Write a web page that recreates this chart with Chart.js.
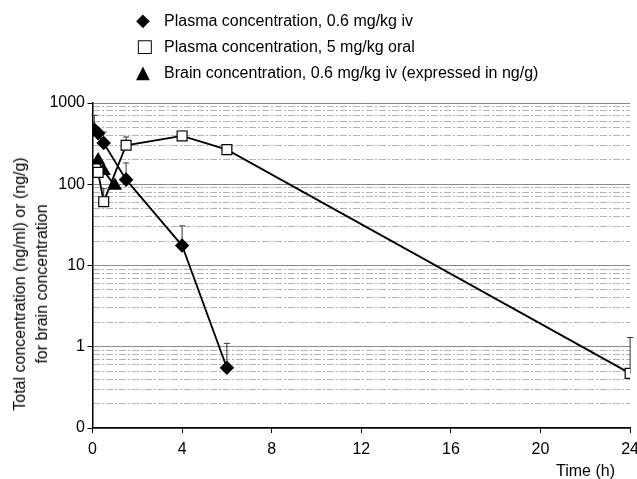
<!DOCTYPE html>
<html>
<head>
<meta charset="utf-8">
<script src="https://cdn.jsdelivr.net/npm/chart.js@4.4.0/dist/chart.umd.min.js"></script>
<style>
 body{margin:0;background:#fff;overflow:hidden;}
 #wrap{position:relative;width:637px;height:479px;overflow:hidden;font-family:"Liberation Sans",Arial,sans-serif;color:#000;}
 .leg{position:absolute;left:136px;font-size:16px;line-height:18px;white-space:nowrap;}
 .leg .mk{display:inline-block;width:28px;font-family:"DejaVu Sans";font-size:18px;}
 #xtitle{position:absolute;left:556px;top:462px;font-size:16px;line-height:18px;}
 #ytitle{position:absolute;left:31px;top:284px;width:0;height:0;}
 #ytitle div{position:absolute;left:0;top:0;transform:translate(-50%,-50%) rotate(-90deg);font-size:16px;line-height:22px;text-align:center;white-space:nowrap;}
 canvas{position:absolute;left:0;top:0;}
</style>
</head>
<body>
<div id="wrap">
 <canvas id="chart_paper" width="646" height="479"></canvas>
 <div class="leg" style="top:11px"><span class="mk">&#9670;</span>Plasma concentration, 0.6 mg/kg iv</div>
 <div class="leg" style="top:37px"><span class="mk">&#9633;</span>Plasma concentration, 5 mg/kg oral</div>
 <div class="leg" style="top:63px"><span class="mk">&#9650;</span>Brain concentration, 0.6 mg/kg iv (expressed in ng/g)</div>
 <div id="ytitle"><div>Total concentration (ng/ml) or (ng/g)<br>for brain concentration</div></div>
 <div id="xtitle">Time (h)</div>
</div>
<script>
// values
var ivTimes=[0.08,0.25,0.5,1.5,4,6];
var ivPlasma=[470,425,322,114,17.6,0.55];
var ivPlasmaTop=[706,null,440,183,30.7,1.1];   // upper end of error bar

var oralTimes=[0.25,0.5,1.5,4,6,24];
var oralPlasma=[140,61,302,393,267,0.47];
var oralPlasmaTop=[null,88,382,449,null,1.3];

var brainTimes=[0.25,0.5,1];
var brainConc=[197,146,96];

var xTicks=[0,4,8,12,16,20,24];
var yTicks=[0.1,1,10,100,1000];
var yTickLabels=['0','1','10','100','1000'];

function pts(t,v)
{
 var out=[];
 for(var i=0;i<t.length;i++) out.push({x:t[i],y:v[i]});
 return out;
}

// minor log grid positions 2..9 in each decade
var yMinor=[];
for(var d=0;d<yTicks.length-1;d++)
 for(var k=2;k<10;k++) yMinor.push(yTicks[d]*k);

var errorBars={
 id:'errorBars',
 beforeDatasetsDraw:function(chart)
 {
  var ctx=chart.ctx,xs=chart.scales.x,ys=chart.scales.y;
  ctx.save();
  ctx.strokeStyle='#333';
  ctx.lineWidth=1;
  chart.data.datasets.forEach(function(ds){
   if(!ds.errTop) return;
   ds.errTop.forEach(function(top,j){
    if(top==null) return;
    var px=xs.getPixelForValue(ds.data[j].x);
    var py=ys.getPixelForValue(ds.data[j].y);
    var pt=ys.getPixelForValue(top);
    ctx.beginPath();
    ctx.moveTo(px,py);ctx.lineTo(px,pt);
    ctx.moveTo(px-3,pt);ctx.lineTo(px+3,pt);
    ctx.stroke();
   });
  });
  ctx.restore();
 }
};

var font={family:'"Liberation Sans", Arial, sans-serif',size:16};

var chart_obj=new Chart(document.getElementById('chart_paper'),{
 type:'line',
 data:{
  datasets:[
   {
    label:'Plasma concentration, 0.6 mg/kg iv',
    data:pts(ivTimes,ivPlasma),
    errTop:ivPlasmaTop,
    borderColor:'#000',borderWidth:1.8,
    pointStyle:'rectRot',pointRadius:6,
    pointBackgroundColor:'#000',pointBorderColor:'#000',
    fill:false
   },
   {
    label:'Plasma concentration, 5 mg/kg oral',
    data:pts(oralTimes,oralPlasma),
    errTop:oralPlasmaTop,
    borderColor:'#000',borderWidth:1.8,
    pointStyle:'rect',pointRadius:7,pointBorderWidth:1.2,
    pointBackgroundColor:'#fff',pointBorderColor:'#000',
    fill:false
   },
   {
    label:'Brain concentration, 0.6 mg/kg iv (expressed in ng/g)',
    data:pts(brainTimes,brainConc),
    borderColor:'#000',borderWidth:1.8,
    pointStyle:'triangle',pointRadius:6.5,
    pointBackgroundColor:'#000',pointBorderColor:'#000',
    fill:false
   }
  ]
 },
 options:{
  responsive:false,
  animation:false,
  layout:{padding:{top:103,right:0,left:0,bottom:0}},
  plugins:{legend:{display:false},tooltip:{enabled:false}},
  scales:{
   x:{
    type:'linear',min:0,max:24,
    afterBuildTicks:function(s){s.ticks=xTicks.map(function(v){return {value:v};});},
    afterFit:function(s){s.height=51;},
    ticks:{color:'#000',font:font,padding:7,maxRotation:0},
    grid:{drawOnChartArea:false,drawTicks:true,tickLength:5,tickColor:'#000'},
    border:{color:'#000',width:1.5}
   },
   y:{
    type:'logarithmic',min:0.1,max:1000,position:'left',weight:0,
    afterBuildTicks:function(s){s.ticks=yTicks.map(function(v){return {value:v,major:true};});},
    afterFit:function(s){s.width=92.5;},
    ticks:{color:'#000',font:font,padding:2.5,autoSkip:false,
     callback:function(v,i){return yTickLabels[i];}},
    grid:{color:'#8a8a8a',lineWidth:1,tickColor:'#000',tickLength:5},
    border:{color:'#000',width:1.5}
   },
   y2:{
    type:'logarithmic',min:0.1,max:1000,position:'left',weight:1,
    afterBuildTicks:function(s){s.ticks=yMinor.map(function(v){return {value:v};});},
    afterFit:function(s){s.width=0;},
    ticks:{display:false},
    grid:{color:'#b4b4b4',lineWidth:1,drawTicks:false},
    border:{display:false,dash:[7,2,2,2]}
   }
  }
 },
 plugins:[errorBars]
});
</script>
</body>
</html>
